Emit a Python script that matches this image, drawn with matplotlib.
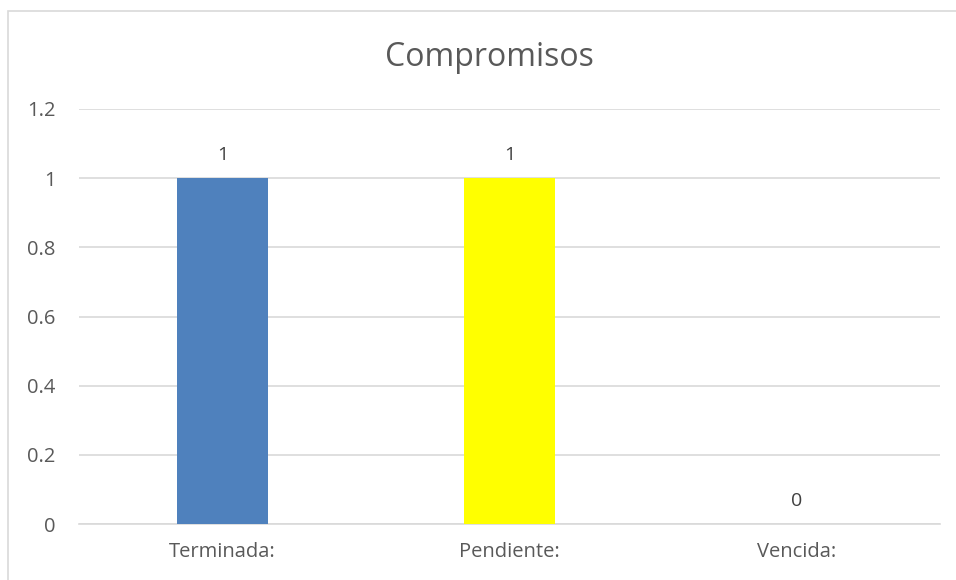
import matplotlib
matplotlib.use("Agg")
import matplotlib.pyplot as plt
from matplotlib.patches import Rectangle

categories = ["Terminada:", "Pendiente:", "Vencida:"]
values = [1, 1, 0]
colors = ["#4F81BD", "#FFFF00", "#9BBB59"]
yticks = [0, 0.2, 0.4, 0.6, 0.8, 1, 1.2]
ytick_labels = ["0", "0.2", "0.4", "0.6", "0.8", "1", "1.2"]
title = "Compromisos"

plt.rcParams["font.family"] = ["Open Sans", "DejaVu Sans"]
txt = "#595959"

fig = plt.figure(figsize=(9.56, 5.8), dpi=100)
ax = fig.add_axes([79/956, 56/580, (940-79)/956, (524-109)/580])

x = list(range(len(categories)))
ax.bar(x, values, width=0.314, color=colors, zorder=3)
for xi, v in zip(x, values):
    ax.text(xi, v + 0.04, f"{v:g}", ha="center", va="bottom", fontsize=14, color="#404040")

ax.set_xlim(-0.5, len(categories) - 0.5)
ax.set_ylim(0, 1.2)
ax.set_yticks(yticks)
ax.set_yticklabels(ytick_labels)
ax.set_xticks(x)
ax.set_xticklabels(categories)
ax.tick_params(axis="both", length=0, labelsize=14.5, labelcolor=txt)
ax.tick_params(axis="y", pad=17)
ax.tick_params(axis="x", pad=13)
ax.grid(axis="y", color="#D9D9D9", linewidth=1.2, zorder=0)
for s in ["top", "right", "left"]:
    ax.spines[s].set_visible(False)
ax.spines["bottom"].set_color("#D9D9D9")
ax.spines["bottom"].set_linewidth(1.2)

fig.text(489/956, 1 - 57/580, title, ha="center", va="center", fontsize=23, color=txt)

fig.patches.append(Rectangle((8/956, -0.1), 1.2, 1 - 11/580 + 0.1, transform=fig.transFigure,
                             fill=False, edgecolor="#D9D9D9", linewidth=1.2))

fig.savefig("out.png", dpi=100)
